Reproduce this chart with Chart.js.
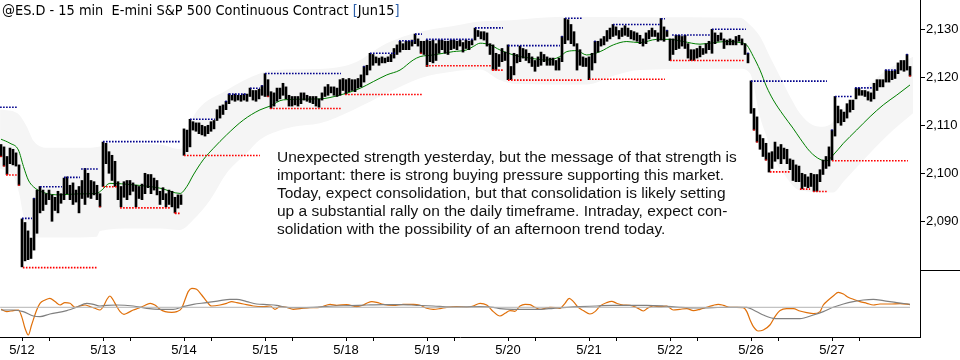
<!DOCTYPE html>
<html>
<head>
<meta charset="utf-8">
<script src="https://cdn.jsdelivr.net/npm/chart.js@4.4.1/dist/chart.umd.min.js"></script>
<style>
  body { margin: 0; background: #fff; }
  #wrap { position: relative; width: 960px; height: 360px; overflow: hidden; background: #fff; }
  canvas { position: absolute; left: 0; }
  #title { position: absolute; left: 2px; top: 2px; font: 14.4px "DejaVu Sans Condensed", "DejaVu Sans", sans-serif; font-stretch: condensed; color: #000; white-space: pre; }
  #title .br { color: #2b5ea8; }
  #note { position: absolute; left: 277px; top: 148px; font: 15.5px "Liberation Sans", Arial, sans-serif; line-height: 18px; color: #111; white-space: nowrap; }
</style>
</head>
<body>
<div id="wrap">
  <canvas id="price-chart" width="960" height="270" style="top:0;width:960px;height:270px"></canvas>
  <canvas id="osc-chart" width="960" height="90" style="top:270px;width:960px;height:90px"></canvas>
  <div id="title">@ES.D - 15 min  E-mini S&amp;P 500 Continuous Contract <span class="br">[</span>Jun15<span class="br">]</span></div>
  <div id="note">Unexpected strength yesterday, but the message of that strength is<br>important: there is strong buying pressure supporting this market.<br>Today, expect consolidation, but that consolidation is likely setting<br>up a substantial rally on the daily timeframe. Intraday, expect con-<br>solidation with the possibility of an afternoon trend today.</div>
</div>
<script>
// 15 min bars, 5/11 (last 7 bars) through 5/27
const bar_high = [
  2106, 2105.5, 2103.5, 2105.25, 2105, 2104.25, 2101.75,
  2090.5, 2089.75, 2088, 2086.5, 2094.75, 2096.5, 2097.25, 2096.5, 2095.75, 2096.5, 2095.5, 2095, 2096.25, 2095.75, 2099, 2099.25, 2097.5, 2098, 2096.5, 2097.25, 2098.5, 2101, 2100, 2098.5, 2098.25, 2097.5, 2095.75,
  2106.5, 2106.25, 2104.5, 2103.75, 2102.5, 2098.25, 2097.25, 2098.25, 2098.5, 2098.5, 2098, 2097.5, 2097.25, 2097.75, 2100, 2099.75, 2099.75, 2099, 2098.5, 2096.25, 2097, 2095.75, 2096.5, 2096.25, 2095, 2095.5, 2095.5,
  2109.25, 2109, 2111.25, 2110.75, 2110.5, 2110.5, 2110, 2109.75, 2110, 2110.75, 2111, 2113.25, 2114, 2114.25, 2115, 2116.5, 2116.25, 2116.5, 2116.25, 2116.25, 2116.5, 2116.5, 2117.75, 2117.25, 2117.25, 2117.5, 2118.25,
  2120.75, 2119.5, 2117, 2116.75, 2117.75, 2117.75, 2118.75, 2118, 2116.25, 2116, 2116, 2116, 2116.75, 2116.75, 2116.25, 2116, 2116, 2116, 2115.5, 2116.75, 2118, 2118.5, 2118, 2118, 2117.75, 2119.5, 2119.75,
  2119.5, 2119.75, 2119.5, 2119.5, 2119.75, 2120.5, 2122.25, 2122.5, 2125, 2124.75, 2124.25, 2124, 2124.25, 2124, 2124.25, 2124.75, 2126, 2126.75, 2127.5, 2127, 2127.5, 2127.5, 2127.75, 2129, 2128, 2127.5, 2127.5,
  2127.75, 2127.5, 2127.75, 2127, 2127.75, 2127.75, 2127.5, 2127.5, 2127.75, 2127.75, 2127.5, 2127.75, 2127.25, 2127.75, 2127.5, 2127.75, 2130.25, 2129.75, 2129.5, 2129.5, 2129.25, 2127, 2126.75, 2125, 2124.75, 2126, 2125.25,
  2126.75, 2122.25, 2125, 2124.75, 2126.5, 2126, 2125.75, 2125, 2124.25, 2123.5, 2124.25, 2125.25, 2124.75, 2124.25, 2124, 2124, 2123.5, 2124, 2128.5, 2132.25, 2132, 2131, 2129.5, 2127, 2125.75, 2124.25, 2124,
  2124.25, 2125, 2127.5, 2127.5, 2128, 2128.5, 2129.75, 2130.25, 2131, 2130.5, 2129.75, 2130.25, 2130.75, 2130.25, 2129.75, 2129.5, 2129.25, 2128.75, 2128, 2129.25, 2129.75, 2130.25, 2129.75, 2129.25, 2132.25, 2130.5, 2129.75,
  2128, 2128, 2128.75, 2128.75, 2128.5, 2128.75, 2127, 2125.75, 2125.75, 2126, 2126.5, 2126, 2127, 2127.5, 2130, 2129.25, 2128.75, 2129.25, 2128, 2127.75, 2128, 2127.75, 2128.5, 2128.75, 2128, 2127, 2125,
  2119.25, 2113.5, 2111.75, 2108, 2107.25, 2106.25, 2104.25, 2104.5, 2106.5, 2105.5, 2106, 2105.25, 2105, 2103, 2102.75, 2101.75, 2101.5, 2100, 2099.75, 2099.25, 2100, 2099.75, 2099.75, 2100.75, 2102.75, 2103.5, 2105.5,
  2109, 2116, 2114, 2113.25, 2112.75, 2114.5, 2115.25, 2115.25, 2117.75, 2117.75, 2117.25, 2117.25, 2117, 2116.75, 2118.75, 2119.5, 2119.5, 2119.5, 2121.5, 2121.25, 2121.25, 2121.5, 2123, 2123.5, 2123.5, 2124.75, 2122.25
];
const bar_low = [
  2103.5, 2101.5, 2099.75, 2102, 2101.75, 2101.5, 2097.5,
  2080.5, 2081.75, 2082, 2082.25, 2084, 2087.5, 2091.75, 2092.25, 2093.5, 2094.5, 2090, 2092.25, 2091.75, 2093.75, 2094.5, 2095.75, 2094.5, 2093.5, 2094, 2091.75, 2094.75, 2093.5, 2095, 2094.75, 2095.5, 2094.5, 2093,
  2097.25, 2102, 2100, 2098.5, 2097.25, 2094.5, 2093, 2095, 2094.5, 2095.5, 2096.25, 2093, 2094.75, 2094.5, 2095.75, 2097, 2095.75, 2096.5, 2095.5, 2093.5, 2094.5, 2093, 2093.5, 2093, 2091.75, 2092.75, 2093.5,
  2103.75, 2104.5, 2105.5, 2109, 2108.75, 2108.25, 2108, 2107.75, 2108.25, 2108.75, 2109.25, 2111, 2111.5, 2112.25, 2113.25, 2114.5, 2115.25, 2115, 2115.25, 2115, 2115.25, 2115, 2116, 2115.25, 2115, 2115.5, 2116.25,
  2116, 2116, 2113.5, 2114, 2115, 2115.5, 2116.25, 2115.5, 2114, 2114, 2114.25, 2114, 2114.5, 2115.25, 2115, 2114.75, 2114.5, 2114, 2113.75, 2115.25, 2116, 2116.25, 2116.75, 2116.25, 2116, 2116.25, 2117.25,
  2116.5, 2117, 2117.25, 2117, 2117.75, 2118, 2119, 2120.5, 2121.5, 2122.5, 2123, 2122.5, 2123, 2123, 2123.25, 2123.25, 2124, 2124.75, 2125.25, 2125.75, 2125.75, 2125.75, 2126.5, 2127, 2126.5, 2125, 2124.75,
  2122.25, 2123.25, 2123, 2123.5, 2125, 2125.75, 2125, 2124.75, 2125.75, 2126, 2125.75, 2126.5, 2125.25, 2126, 2125.75, 2126.75, 2127.75, 2128.5, 2128, 2127.75, 2126.5, 2124.75, 2121.5, 2121.5, 2122.25, 2123.25, 2123.5,
  2119.5, 2119.5, 2120.5, 2123, 2123.25, 2124, 2123.5, 2123, 2122.25, 2121.25, 2122.25, 2122.5, 2123.25, 2122.5, 2122.5, 2122.5, 2121.5, 2121.5, 2123.25, 2127, 2127.75, 2127, 2126.5, 2121.5, 2122.5, 2122.25, 2122.25,
  2119.5, 2121.5, 2123, 2125.25, 2126.5, 2126.75, 2127.5, 2128, 2128.5, 2128.75, 2128, 2128.5, 2128.75, 2128.5, 2128, 2127.75, 2127.5, 2127, 2126.5, 2127, 2128, 2128.5, 2128.5, 2127.5, 2127.75, 2127.5, 2128.5,
  2123.5, 2124.75, 2125.75, 2126, 2126.5, 2126, 2124, 2123.5, 2123.5, 2124, 2124.25, 2124.75, 2125, 2125.75, 2125, 2127, 2127.5, 2127.75, 2126, 2126.75, 2126.75, 2126.75, 2126.75, 2127.5, 2126.75, 2124.75, 2123,
  2112.5, 2109, 2106.5, 2105, 2103.5, 2102.75, 2100.25, 2101, 2102.5, 2103, 2102, 2103, 2102, 2100.75, 2098.5, 2098.25, 2098.25, 2096.75, 2097.25, 2097, 2097.25, 2096.25, 2096.25, 2098.25, 2099.75, 2101, 2101.5,
  2102.75, 2107.75, 2110.5, 2110, 2110.75, 2111.5, 2112.75, 2113.25, 2115.5, 2116.25, 2116.25, 2116, 2115.25, 2115, 2115.5, 2117.25, 2118, 2118, 2119, 2119, 2119.5, 2119.75, 2120.75, 2121.5, 2121.25, 2121.5, 2120.25
];

// bars whose high / low carries a coloured marker
const high_marks = [11, 75, 76, 87, 121, 187, 198, 222, 249, 277, 302];
const low_marks = [0, 1, 2, 6, 33, 58, 89, 140, 164, 251, 252, 255, 303];

// [bar index, price]
const ma_line = [[0,2107.1],[3,2106.25],[5.8,2104.85],[7.5,2101.4],[9.1,2098.6],[10.8,2097.2],[14.1,2096],[19.7,2095.5],[25.2,2095.7],[31.9,2095.8],[33.6,2096.5],[36.3,2097.9],[44,2097.6],[53,2096.9],[59.7,2095.8],[61.9,2097.2],[64.1,2099.65],[67.4,2102.8],[70.8,2105.2],[75.2,2108],[80.8,2111.1],[86.3,2113.2],[89.7,2114],[94.1,2115.3],[106.3,2115.5],[113,2116.3],[119.7,2117.7],[124.1,2119.1],[128.6,2120.5],[133,2121.5],[137.4,2123.6],[139.7,2124.3],[144.1,2124.65],[150.8,2125.35],[155.2,2125.7],[157.4,2126.4],[159.7,2127.1],[163,2126.75],[166.3,2125.7],[170.8,2124.65],[176.3,2124],[181.9,2123.6],[186.3,2124.3],[188.6,2125.35],[191.9,2125.55],[195.2,2124.65],[199.7,2125.35],[204.1,2126.75],[208.6,2127.45],[213,2127.2],[218.6,2127.9],[223,2127.9],[227.4,2127.45],[233,2126.9],[237.4,2127.2],[241.9,2127.45],[246.5,2127.2],[248.6,2126.7],[250.8,2124.3],[253,2121.5],[255.2,2118],[257.4,2115.3],[260.8,2112.1],[264,2109.4],[266.3,2107.3],[269.7,2104.5],[273,2102.9],[275.2,2102.6],[277.4,2103.8],[280.8,2106.25],[285.2,2109],[289.7,2111.8],[294.1,2114.25],[298.6,2116.3],[303,2118.4]];
const band_upper = [[-0.3,2113.3],[5.5,2112.5],[8.6,2109.7],[10.8,2106.8],[16,2105.3],[27,2105.3],[33,2105.6],[36,2106.2],[53,2106],[59.7,2105],[61.9,2108.3],[64.1,2111.8],[75.2,2117.3],[86.3,2120.8],[91.9,2121.5],[106.3,2121.7],[117.4,2122.9],[128.6,2127.1],[139.7,2129.5],[150.8,2130.7],[159.7,2131.6],[170,2131.9],[187.4,2132.6],[213,2132.5],[246.3,2132.4],[249.7,2130.9],[253,2128.5],[256.3,2124.3],[259.7,2120.1],[263,2116],[266.3,2112.5],[270.7,2110],[274,2109.7],[277,2110.5],[280.8,2113.5],[288.6,2118],[295.2,2121.5],[304,2124.3]];
const band_lower = [[-0.3,2101],[4,2099.5],[6,2096],[7.5,2091],[9.5,2087.5],[12,2086.6],[20,2086.6],[31.9,2086.8],[33,2088],[44.1,2088.5],[53,2088.5],[59.7,2088.2],[64.1,2090.3],[69.7,2094.45],[75.2,2100],[81.9,2104.2],[86.3,2107],[91.9,2108.7],[97.4,2109.7],[106.3,2110.4],[117.4,2113.2],[128.6,2116.65],[139.7,2119.8],[150.8,2121.2],[159.7,2121.6],[166,2119.5],[172,2118.6],[195,2118.5],[205,2120.5],[213,2121.5],[246.3,2121.8],[249.7,2120.8],[253,2111.8],[255.2,2107.6],[257.4,2103.5],[260.8,2100],[266.3,2096.4],[277.4,2096],[280.8,2098.25],[288.6,2103.5],[297.4,2109],[304,2112.5]];

// [price, from bar, to bar]
const resistance_lines = [[2113.75,-0.3,5.3],[2090.6,7,10.3],[2097.2,13,20.3],[2099.15,21,26.3],[2100.9,26.7,32.5],[2106.6,34,59.7],[2111.25,63,71.3],[2116.5,76,82],[2117.7,83,86.3],[2120.8,88,113.3],[2125,123,131.3],[2127.6,132.7,138],[2129,138,140.3],[2127.9,141.7,157.3],[2130.3,158,167.3],[2126.6,169,186.3],[2132.3,188,194],[2131,204,219.7],[2132.2,220,221.3],[2128.8,223.7,236.3],[2130,237,248.3],[2119.2,250,275.3],[2116,278,284],[2117.8,284.7,290.3],[2121.5,294.7,298.7]];
const support_lines = [[2099.65,1.7,5.3],[2080.35,7.3,32],[2097.2,34,38.7],[2092.8,39.7,56.3],[2091.65,58,59.7],[2103.7,61,86.3],[2113.5,89.7,113.3],[2116.4,114.7,140.3],[2122.4,141.7,163.3],[2121.5,163.7,167.3],[2119.4,169,194],[2119.6,196,221.3],[2123.5,223,248],[2100.3,256.3,263],[2096.7,266.3,269.7],[2096.2,270.7,275.3],[2102.6,277,302.3]];

// oscillator, [bar index, value]
const osc_fast = [[0,-2],[1.9,-4.3],[4.1,-3.3],[5.8,-2.7],[6.9,-9.3],[8,-21],[9.1,-27.7],[10.2,-17.7],[11.9,-2.7],[13,4],[14.7,7.3],[16.3,9],[18,5.7],[19.7,2.3],[21.3,4.7],[23,4],[24.7,0],[26.3,1.3],[28,2.3],[29.7,0.7],[31.3,-1],[33,-2.7],[34.1,0.7],[35.2,7.3],[36.3,11.3],[37.4,7.3],[38.6,0.7],[39.7,-4.3],[41,-7],[42.4,-5.3],[44.1,-2.7],[45.8,-1],[47.5,1.3],[49.7,4],[51.3,2.3],[53,-2],[54.7,-4.3],[56.9,-5],[58.6,-4.3],[60.2,-1],[61.3,7.3],[62.4,15.7],[63.6,19],[65.2,18],[66.9,12.3],[68.6,5.7],[70.2,1.3],[73,2.3],[75.2,4],[76.9,5.7],[78.6,4.7],[80.8,3.3],[84.1,1.3],[87.4,0.7],[89.7,1.3],[91.3,-2],[93,0.7],[95.2,0],[97.4,-2],[99.7,-1.3],[103,-0.3],[106.3,0],[109.7,3],[111.9,2],[115.2,2.7],[118.6,0.7],[120.8,2.3],[121.9,4],[123.6,5.7],[125.2,5],[127.4,3],[130.8,2],[134.1,3],[137.5,3],[139.7,2],[141.9,-1],[144.1,-2],[146.3,-1.3],[148.6,0],[151.9,0.7],[155.2,0],[157.4,1.3],[159.7,4],[161.9,2.3],[164.1,-4.3],[166.3,-8.7],[168,-6],[169.7,-3.3],[171.3,-4],[173,1.3],[174.7,3],[176.3,2.7],[178,0],[179.7,-2],[181.3,-1],[183,0],[184.7,-0.3],[186.3,-1],[188,4],[189.4,9],[190.8,5.7],[192.4,0],[194.1,-3.3],[196.3,-6.7],[198,-4.3],[199.7,1.3],[201.9,4.7],[203.6,6],[205.2,4],[207.4,2.3],[209.7,2],[211.9,-0.3],[214.1,-3.7],[215.8,-0.3],[217.4,1.3],[219.7,0.7],[221.9,1.3],[224.1,-2.7],[226.3,-2],[228.6,-1.3],[230.8,-3.3],[233,-2],[235.2,0],[237.4,2],[239.1,3],[240.8,2],[243,0],[245.2,0],[247.4,-0.3],[248.6,-4.3],[249.7,-12.7],[250.8,-19.3],[252.4,-23.7],[254.1,-22.7],[256.3,-17.7],[258,-9.3],[259.7,-3.3],[261.9,-1.3],[264.1,-1.3],[266.3,-3.7],[268.6,-5.3],[270.8,-6.3],[273,-4.3],[274.1,2.3],[275.8,7.3],[277.4,11.3],[279.1,15],[280.8,13.3],[282.4,10],[284.1,8],[286.3,5.7],[288.6,4],[290.8,2.3],[293,3.3],[296.3,3.3],[299.7,3.7],[303,2.7]];
const osc_slow = [[0,-2.7],[4.1,-2.7],[7.4,-4.3],[10.8,-8.7],[13,-9.3],[16.3,-6.7],[21.9,-3.3],[25.2,0],[28.6,4],[30.8,3],[33,1.3],[35.2,2],[38.6,2.3],[44.1,1.3],[48.6,-1],[53,-2],[57.4,-2],[60.8,0.7],[64.1,3],[68.6,4.7],[73,6.7],[76.3,8],[78.6,8],[81.9,5.7],[85.2,3.3],[88.6,2.7],[91.9,2],[95.2,0],[99.7,-0.3],[104.1,0],[110.8,1.3],[116.3,1.7],[121.9,2.3],[127.4,2.7],[133,2.7],[138.6,2],[144.1,1.3],[149.7,0.3],[159.7,0.7],[164.1,0],[166.3,-1.3],[170.8,-2],[179.7,-2],[184.1,-1],[188.6,0],[193,0.7],[198.6,1.3],[204.1,2],[215.2,2],[220.8,1.3],[226.3,0],[231.9,-0.7],[237.4,-0.3],[243,0],[248.6,0],[250.8,-2.7],[254.1,-7.7],[257.4,-11],[261.9,-11.3],[266.3,-11.3],[270.8,-7.7],[274.1,-4.3],[277.4,0],[280.8,3.3],[284.1,5.7],[287.4,7.3],[290.8,8],[294.1,6.7],[298.6,4.7],[303,3]];
const osc_zero = [[-0.3,0],[303,0]];

const day_start = [7, 34, 61, 88, 115, 142, 169, 196, 223, 250, 277];
const day_label = ['5/12', '5/13', '5/14', '5/15', '5/18', '5/19', '5/20', '5/21', '5/22', '5/26', '5/27'];
const price_ticks = [2090, 2100, 2110, 2120, 2130];

const x_min = -1 / 3, x_max = 306 + 1 / 3;
const axis_font = { family: '"Liberation Sans", Arial, sans-serif', size: 13 };

function to_pts(arr) {
    return arr.map(p => ({ x: p[0], y: p[1] }));
}

function level_pts(lines) {
    let pts = [];
    lines.forEach(l => {
        pts.push({ x: l[1], y: l[0] }, { x: l[2], y: l[0] }, { x: l[2], y: null });
    });
    return pts;
}

// keep the plot area flush with the canvas edges
function fit_right_axis(scale) {
    scale.width = 40;
    scale.paddingTop = 0;
    scale.paddingBottom = 0;
}

let bar_data = bar_high.map((h, i) => ({ x: i, y: [bar_low[i], h] }));
let high_mark_pts = high_marks.map(i => ({ x: i, y: bar_high[i] }));
let low_mark_pts = low_marks.map(i => ({ x: i, y: bar_low[i] }));

new Chart(document.getElementById('price-chart').getContext('2d'), {
    type: 'bar',
    data: {
        datasets: [
            { type: 'line', data: to_pts(band_upper), fill: '+1', backgroundColor: '#f5f5f5', borderWidth: 0, pointRadius: 0, cubicInterpolationMode: 'monotone', order: 6 },
            { type: 'line', data: to_pts(band_lower), fill: false, borderWidth: 0, pointRadius: 0, cubicInterpolationMode: 'monotone', order: 6 },
            { type: 'line', data: to_pts(ma_line), borderColor: '#008000', borderWidth: 1, pointRadius: 0, cubicInterpolationMode: 'monotone', order: 4 },
            { type: 'line', data: level_pts(resistance_lines), borderColor: '#00008c', borderWidth: 1.6, borderDash: [1.6, 1.4], pointRadius: 0, spanGaps: false, order: 0 },
            { type: 'line', data: level_pts(support_lines), borderColor: '#ff0000', borderWidth: 1.6, borderDash: [1.6, 1.4], pointRadius: 0, spanGaps: false, order: 0 },
            { type: 'line', data: high_mark_pts, showLine: false, pointStyle: 'rect', pointRadius: 1, pointHoverRadius: 0, pointBorderWidth: 0, pointBackgroundColor: '#00008c', order: 0 },
            { type: 'line', data: low_mark_pts, showLine: false, pointStyle: 'rect', pointRadius: 1, pointHoverRadius: 0, pointBorderWidth: 0, pointBackgroundColor: '#ff0000', order: 0 },
            { type: 'bar', data: bar_data, backgroundColor: '#000', barThickness: 2, order: 1 }
        ]
    },
    options: {
        responsive: false,
        animation: false,
        events: [],
        layout: { padding: 0, autoPadding: false },
        plugins: { legend: { display: false }, tooltip: { enabled: false } },
        scales: {
            x: { type: 'linear', min: x_min, max: x_max, offset: false, display: false },
            y: {
                position: 'right',
                min: 2079.85,
                max: 2136.1,
                afterBuildTicks: scale => { scale.ticks = price_ticks.map(v => ({ value: v })); },
                afterFit: fit_right_axis,
                grid: { drawOnChartArea: false, tickLength: 5, color: '#000' },
                border: { display: true, color: '#000', width: 1 },
                ticks: { padding: 1, color: '#000', font: axis_font, callback: v => v.toLocaleString('en-US') }
            }
        }
    }
});

let x_ticks = [];
day_start.forEach(d => { x_ticks.push(d, d + 9); });

const panel_edge = {
    id: 'panel_edge',
    afterDraw(chart) {
        const ctx = chart.ctx, a = chart.chartArea;
        ctx.save();
        ctx.strokeStyle = '#000';
        ctx.lineWidth = 1;
        ctx.beginPath();
        ctx.moveTo(a.right, 0.5);
        ctx.lineTo(chart.width, 0.5);
        ctx.stroke();
        ctx.restore();
    }
};

new Chart(document.getElementById('osc-chart').getContext('2d'), {
    type: 'line',
    data: {
        datasets: [
            { data: to_pts(osc_zero), borderColor: '#b4b4b4', borderWidth: 1, pointRadius: 0 },
            { data: to_pts(osc_slow), borderColor: '#808080', borderWidth: 1.2, pointRadius: 0, cubicInterpolationMode: 'monotone' },
            { data: to_pts(osc_fast), borderColor: '#e0700a', borderWidth: 1.2, pointRadius: 0, cubicInterpolationMode: 'monotone' }
        ]
    },
    plugins: [panel_edge],
    options: {
        responsive: false,
        animation: false,
        events: [],
        layout: { padding: 0, autoPadding: false },
        plugins: { legend: { display: false }, tooltip: { enabled: false } },
        scales: {
            x: {
                type: 'linear',
                min: x_min,
                max: x_max,
                afterBuildTicks: scale => { scale.ticks = x_ticks.map(v => ({ value: v })); },
                afterFit: scale => { scale.height = 23; scale.paddingLeft = 0; scale.paddingRight = 0; },
                grid: { drawOnChartArea: false, tickLength: 4, color: '#000' },
                border: { display: true, color: '#000', width: 1 },
                ticks: {
                    autoSkip: false, maxRotation: 0, minRotation: 0, padding: 2, color: '#000', font: axis_font,
                    callback: v => { let k = day_start.indexOf(v); return k >= 0 ? day_label[k] : ''; }
                }
            },
            y: {
                position: 'right',
                min: -29.7,
                max: 37.3,
                afterFit: fit_right_axis,
                grid: { drawOnChartArea: false, drawTicks: false },
                border: { display: true, color: '#000', width: 1 },
                ticks: { display: false }
            }
        }
    }
});
</script>
</body>
</html>
